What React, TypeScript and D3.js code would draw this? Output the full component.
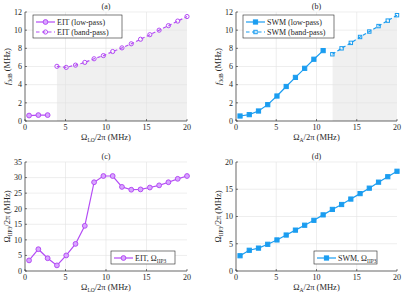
import * as d3 from 'd3';

const xs = d3.range(18).map((i) => 0.5 + (i * 19.5) / 17);

// (a) EIT f3dB
const eitLowY = [0.6, 0.65, 0.65];
const eitBandY = [6.02, 5.9, 6.15, 6.45, 6.85, 7.2, 7.65, 8.05, 8.5, 9.0, 9.5, 10.0, 10.5, 11.0, 11.5];
// (b) SWM f3dB
const swmLowY = [0.55, 0.7, 1.1, 1.8, 2.75, 3.8, 4.8, 5.8, 6.8, 7.75];
const swmBandY = [7.35, 8.0, 8.6, 9.25, 9.85, 10.45, 11.05, 11.65];
// (c) EIT IIP3
const eitIip3 = [3.4, 7.0, 4.1, 1.8, 5.0, 8.7, 14.5, 28.5, 30.5, 30.5, 27.0, 26.1, 26.2, 26.8, 27.5, 28.5, 29.6, 30.5];
// (d) SWM IIP3
const swmIip3 = [2.8, 3.8, 4.2, 4.9, 5.7, 6.6, 7.5, 8.4, 9.3, 10.3, 11.3, 12.2, 13.2, 14.2, 15.2, 16.3, 17.3, 18.3];

const xTicks = [0, 5, 10, 15, 20];
const PURPLE = '#b44cf5';
const BLUE = '#1b9df0';
const FONT = 'Liberation Serif, serif';

type Series = { x: number[]; y: number[]; dashed?: boolean; filled?: boolean };

type PanelProps = {
  left: number; top: number; w: number; h: number;
  yMax: number; yTicks: number[];
  title: string; color: string; marker: 'circle' | 'square';
  series: Series[];
  shadeFrom?: number; shadeSeries?: Series;
  xLabel: any; yLabel: any;
  legend: { x: number; y: number; w: number; items: { label: any; dashed?: boolean; filled?: boolean }[] };
};

const Marker = ({ x, y, kind, color, filled, size }: any) =>
  kind === 'circle' ? (
    <circle cx={x} cy={y} r={size} fill={filled ? '#d9a6ff' : 'none'} stroke={color} strokeWidth={1} />
  ) : (
    <rect x={x - size} y={y - size} width={size * 2} height={size * 2} fill={filled ? color : 'none'} stroke={color} strokeWidth={1} />
  );

const Panel = (p: PanelProps) => {
  const x = d3.scaleLinear().domain([0, 20]).range([0, p.w]);
  const y = d3.scaleLinear().domain([0, p.yMax]).range([p.h, 0]);
  const line = d3.line<number>();
  const msize = (s: { filled?: boolean }) => p.marker === 'circle' ? (s.filled ? 2.4 : 2.1) : (s.filled ? 2.1 : 1.7);
  let shadePath = '';
  if (p.shadeSeries) {
    const s = p.shadeSeries;
    const pts: [number, number][] = [[x(p.shadeFrom!), y(0)]];
    pts.push([x(p.shadeFrom!), y(s.y[0])]);
    s.x.forEach((v, i) => pts.push([x(v), y(s.y[i])]));
    pts.push([x(20), y(0)]);
    shadePath = d3.line()(pts) + 'Z';
  }
  return (
    <g transform={`translate(${p.left},${p.top})`} fontFamily={FONT}>
      {shadePath && <path d={shadePath} fill="#f0f0f0" />}
      {xTicks.slice(1, -1).map((t) => (
        <line key={'gx' + t} x1={x(t)} x2={x(t)} y1={0} y2={p.h} stroke="#e3e3e3" strokeWidth={0.6} />
      ))}
      {p.yTicks.slice(1).map((t) => (
        <line key={'gy' + t} x1={0} x2={p.w} y1={y(t)} y2={y(t)} stroke="#e3e3e3" strokeWidth={0.6} />
      ))}
      <line x1={0} x2={0} y1={0} y2={p.h} stroke="#262626" strokeWidth={0.7} />
      <line x1={0} x2={p.w} y1={p.h} y2={p.h} stroke="#262626" strokeWidth={0.7} />
      {xTicks.map((t) => (
        <g key={'tx' + t}>
          <line x1={x(t)} x2={x(t)} y1={p.h} y2={p.h - 2} stroke="#262626" strokeWidth={0.6} />
          <text x={x(t)} y={p.h + 9} fontSize={8} textAnchor="middle" fill="#262626">{t}</text>
        </g>
      ))}
      {p.yTicks.map((t) => (
        <g key={'ty' + t}>
          <line x1={0} x2={2} y1={y(t)} y2={y(t)} stroke="#262626" strokeWidth={0.6} />
          <text x={-3} y={y(t) + 2.8} fontSize={8} textAnchor="end" fill="#262626">{t}</text>
        </g>
      ))}
      {p.series.map((s, si) => (
        <g key={'s' + si}>
          <path d={line.x((_, i) => x(s.x[i])).y((v) => y(v))(s.y) || ''} fill="none" stroke={p.color}
            strokeWidth={1.2} strokeDasharray={s.dashed ? '3.5,2.5' : undefined} />
          {s.y.map((v, i) => (
            <Marker key={i} x={x(s.x[i])} y={y(v)} kind={p.marker} color={p.color} filled={s.filled} size={msize(s)} />
          ))}
        </g>
      ))}
      <text x={p.w / 2} y={-3} fontSize={8} textAnchor="middle" fill="#262626">{p.title}</text>
      <text x={p.w / 2} y={p.h + 19} fontSize={8.5} textAnchor="middle" fill="#262626">{p.xLabel}</text>
      <text transform={`translate(-15,${p.h / 2}) rotate(-90)`} fontSize={8.5} textAnchor="middle" fill="#262626">{p.yLabel}</text>
      <g transform={`translate(${p.legend.x},${p.legend.y})`}>
        <rect x={0} y={0} width={p.legend.w} height={p.legend.items.length * 10 + 3} fill="white" stroke="#262626" strokeWidth={0.6} />
        {p.legend.items.map((it, i) => (
          <g key={i} transform={`translate(0,${7 + i * 10})`}>
            <line x1={3} x2={22} y1={0} y2={0} stroke={p.color} strokeWidth={1.2} strokeDasharray={it.dashed ? '3.5,2.5' : undefined} />
            <Marker x={12.5} y={0} kind={p.marker} color={p.color} filled={it.filled} size={msize(it)} />
            <text x={24} y={2.8} fontSize={8} fill="#262626">{it.label}</text>
          </g>
        ))}
      </g>
    </g>
  );
};

const sub = (s: string) => <tspan fontSize={5.5} dy={1.8}>{s}</tspan>;

export default function App() {
  const pw = 162, ph = 109;
  return (
    <svg width={404} height={296} style={{ position: 'absolute', left: 0, top: 0, background: 'white' }}>
      <Panel left={25} top={12} w={pw} h={ph} yMax={12} yTicks={[0, 2, 4, 6, 8, 10, 12]} title="(a)" color={PURPLE} marker="circle"
        series={[{ x: xs.slice(0, 3), y: eitLowY, filled: true }, { x: xs.slice(3), y: eitBandY, dashed: true }]}
        shadeFrom={xs[3]} shadeSeries={{ x: xs.slice(3), y: eitBandY }}
        xLabel={<>Ω{sub('LO')}<tspan dy={-1.8}>/2π (MHz)</tspan></>}
        yLabel={<><tspan fontStyle="italic">f</tspan>{sub('3dB')}<tspan dy={-1.8}> (MHz)</tspan></>}
        legend={{ x: 8, y: 3, w: 89, items: [{ label: 'EIT (low-pass)', filled: true }, { label: 'EIT (band-pass)', dashed: true }] }} />
      <Panel left={236} top={12} w={161} h={ph} yMax={12} yTicks={[0, 2, 4, 6, 8, 10, 12]} title="(b)" color={BLUE} marker="square"
        series={[{ x: xs.slice(0, 10), y: swmLowY, filled: true }, { x: xs.slice(10), y: swmBandY, dashed: true }]}
        shadeFrom={12} shadeSeries={{ x: xs.slice(10), y: swmBandY }}
        xLabel={<>Ω{sub('A')}<tspan dy={-1.8}>/2π (MHz)</tspan></>}
        yLabel={<><tspan fontStyle="italic">f</tspan>{sub('3dB')}<tspan dy={-1.8}> (MHz)</tspan></>}
        legend={{ x: 7, y: 3, w: 91, items: [{ label: 'SWM (low-pass)', filled: true }, { label: 'SWM (band-pass)', dashed: true }] }} />
      <Panel left={25} top={162} w={pw} h={ph} yMax={35} yTicks={[0, 5, 10, 15, 20, 25, 30, 35]} title="(c)" color={PURPLE} marker="circle"
        series={[{ x: xs, y: eitIip3, filled: true }]}
        xLabel={<>Ω{sub('LO')}<tspan dy={-1.8}>/2π (MHz)</tspan></>}
        yLabel={<>Ω{sub('IIP3')}<tspan dy={-1.8}>/2π (MHz)</tspan></>}
        legend={{ x: 86, y: 89, w: 64, items: [{ label: <>EIT, Ω{sub('IIP3')}</>, filled: true }] }} />
      <Panel left={236} top={162} w={161} h={ph} yMax={20} yTicks={[0, 5, 10, 15, 20]} title="(d)" color={BLUE} marker="square"
        series={[{ x: xs, y: swmIip3, filled: true }]}
        xLabel={<>Ω{sub('A')}<tspan dy={-1.8}>/2π (MHz)</tspan></>}
        yLabel={<>Ω{sub('IIP3')}<tspan dy={-1.8}>/2π (MHz)</tspan></>}
        legend={{ x: 78, y: 89, w: 63, items: [{ label: <>SWM, Ω{sub('IIP3')}</>, filled: true }] }} />
    </svg>
  );
}
